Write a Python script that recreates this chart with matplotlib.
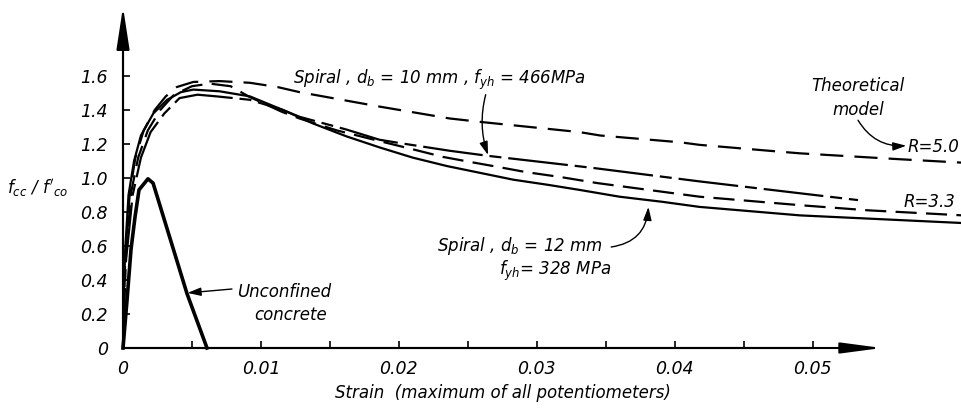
import numpy as np
import matplotlib
matplotlib.use('Agg')
import matplotlib.pyplot as plt

plt.rcParams['font.family'] = 'DejaVu Sans'
plt.rcParams['font.style'] = 'italic'
plt.rcParams['mathtext.fontset'] = 'dejavusans'

# curves (strain, fcc/f'co)
unconf_x = [0, 0.00029, 0.00058, 0.00087, 0.00116, 0.00181, 0.00218, 0.00464, 0.00609]
unconf_y = [0, 0.28, 0.58, 0.77, 0.93, 0.995, 0.97, 0.32, 0]

r50_x = [0, 0.00012, 0.0005, 0.0009, 0.0015, 0.0023, 0.0031, 0.0039, 0.0051, 0.007, 0.0092,
         0.0112, 0.0128, 0.0186, 0.0237, 0.0259, 0.0331, 0.0346, 0.0404, 0.0418, 0.0476,
         0.0491, 0.0564, 0.0609]
r50_y = [0, 0.5, 0.92, 1.12, 1.28, 1.4, 1.48, 1.535, 1.565, 1.57, 1.56,
         1.535, 1.505, 1.42, 1.35, 1.33, 1.27, 1.25, 1.21, 1.195, 1.155,
         1.145, 1.11, 1.09]

r33_x = [0, 0.00015, 0.0006, 0.0011, 0.0018, 0.0027, 0.0037, 0.005, 0.0063, 0.0078, 0.0091,
         0.0115, 0.0128, 0.0155, 0.0192, 0.0212, 0.0232, 0.0252, 0.0272, 0.0292, 0.0317,
         0.0344, 0.0418, 0.0491, 0.054, 0.0609]
r33_y = [0, 0.5, 0.92, 1.12, 1.28, 1.4, 1.49, 1.54, 1.555, 1.54, 1.48,
         1.39, 1.35, 1.28, 1.205, 1.165, 1.124, 1.094, 1.065, 1.035, 1.006,
         0.97, 0.89, 0.84, 0.81, 0.78]

sp12_x = [0, 0.0001, 0.0004, 0.0008, 0.0013, 0.0022, 0.0032, 0.0042, 0.0051, 0.007, 0.0092,
          0.0116, 0.0138, 0.0162, 0.0186, 0.021, 0.0235, 0.0259, 0.0283, 0.0308, 0.0331,
          0.036, 0.0391, 0.0418, 0.0491, 0.0609]
sp12_y = [0, 0.5, 0.9, 1.1, 1.25, 1.38, 1.46, 1.505, 1.52, 1.51, 1.48,
          1.40, 1.32, 1.245, 1.18, 1.12, 1.07, 1.03, 0.99, 0.96, 0.93,
          0.89, 0.86, 0.83, 0.78, 0.735]

sp10_x = [0, 0.0002, 0.0007, 0.0013, 0.002, 0.003, 0.0041, 0.0054, 0.0068, 0.0092, 0.0116,
          0.0128, 0.0162, 0.0186, 0.0201, 0.0237, 0.0265, 0.034, 0.0418, 0.0491, 0.0533]
sp10_y = [0, 0.5, 0.9, 1.12, 1.27, 1.38, 1.47, 1.49, 1.48, 1.46, 1.40,
          1.36, 1.285, 1.225, 1.205, 1.16, 1.13, 1.06, 0.98, 0.91, 0.87]

xticks = [0, 0.01, 0.02, 0.03, 0.04, 0.05]
xlabels = ['0', '0.01', '0.02', '0.03', '0.04', '0.05']
yticks = [0, 0.2, 0.4, 0.6, 0.8, 1.0, 1.2, 1.4, 1.6]
ylabels = ['0', '0.2', '0.4', '0.6', '0.8', '1.0', '1.2', '1.4', '1.6']

fig = plt.figure(figsize=(9.62, 4.12), dpi=100)
ax = fig.add_axes([0, 0, 1, 1])
ax.set_xlim(-0.00892, 0.06084)
ax.set_ylim(-0.3765, 2.047)

lw = 1.6
ax.plot(unconf_x, unconf_y, color='k', lw=2.6, solid_joinstyle='round')
ax.plot(r50_x, r50_y, color='k', lw=lw, linestyle=(0, (10.4, 5)))
ax.plot(r33_x, r33_y, color='k', lw=lw, linestyle=(0, (9.5, 4.2)))
ax.plot(sp12_x, sp12_y, color='k', lw=lw)
ax.plot(sp10_x, sp10_y, color='k', lw=lw, linestyle=(0, (27, 3.1, 5.4, 3.1)))

# axes with arrows
for s in ['top', 'right']:
    ax.spines[s].set_visible(False)
ax.spines['left'].set_position(('data', 0))
ax.spines['bottom'].set_position(('data', 0))
ax.spines['left'].set_bounds(0, 1.8)
ax.spines['bottom'].set_bounds(0, 0.05)
ax.spines['left'].set_linewidth(1.5)
ax.spines['bottom'].set_linewidth(1.5)
ax.annotate('', xy=(0, 2.006), xytext=(0, 0),
            arrowprops=dict(arrowstyle='-|>,head_length=2.6,head_width=0.4',
                            lw=1.5, color='k', shrinkA=0, shrinkB=0))
ax.annotate('', xy=(0.05504, 0), xytext=(0, 0),
            arrowprops=dict(arrowstyle='-|>,head_length=2.5,head_width=0.33',
                            lw=1.5, color='k', shrinkA=0, shrinkB=0))

ax.set_xticks(xticks)
ax.set_xticklabels(xlabels)
ax.set_xticks([0.005, 0.015, 0.025, 0.035, 0.045], minor=True)
ax.set_yticks(yticks)
ax.set_yticklabels(ylabels)
ax.tick_params(axis='both', which='both', direction='in', length=5, width=1.2, labelsize=12.5)
ax.tick_params(axis='y', pad=11)
ax.tick_params(axis='x', pad=9)
for t in ax.get_xticklabels() + ax.get_yticklabels():
    t.set_fontstyle('italic')

fs = 12
ax.text(-0.0084, 0.94, r"$f_{cc}$ / $f'_{co}$", fontsize=fs, ha='left', va='center')
ax.text(0.01537, -0.294, 'Strain  (maximum of all potentiometers)', fontsize=fs,
        ha='left', va='baseline')

ax.text(0.0123, 1.555, r'Spiral , $d_b$ = 10 mm , $f_{yh}$ = 466MPa', fontsize=fs,
        ha='left', va='baseline')
ax.annotate('', xy=(0.02647, 1.135), xytext=(0.0263, 1.49),
            arrowprops=dict(arrowstyle='-|>,head_length=0.8,head_width=0.25', lw=1,
                            color='k', connectionstyle='arc3,rad=0.15',
                            shrinkA=0, shrinkB=0))

ax.text(0.0533, 1.512, 'Theoretical', fontsize=fs, ha='center', va='baseline')
ax.text(0.0533, 1.37, 'model', fontsize=fs, ha='center', va='baseline')
ax.annotate('', xy=(0.0568, 1.19), xytext=(0.0533, 1.34),
            arrowprops=dict(arrowstyle='-|>,head_length=0.8,head_width=0.25', lw=1,
                            color='k', connectionstyle='arc3,rad=0.3',
                            shrinkA=0, shrinkB=0))
ax.text(0.0569, 1.153, 'R=5.0', fontsize=fs, ha='left', va='baseline')
ax.text(0.0566, 0.83, 'R=3.3', fontsize=fs, ha='left', va='baseline')

ax.text(0.0228, 0.571, r'Spiral , $d_b$ = 12 mm', fontsize=fs, ha='left', va='baseline')
ax.text(0.0273, 0.43, r'$f_{yh}$= 328 MPa', fontsize=fs, ha='left', va='baseline')
ax.annotate('', xy=(0.0381, 0.83), xytext=(0.0354, 0.594),
            arrowprops=dict(arrowstyle='-|>,head_length=0.8,head_width=0.25', lw=1,
                            color='k', connectionstyle='arc3,rad=0.4',
                            shrinkA=0, shrinkB=0))

ax.text(0.0083, 0.30, 'Unconfined', fontsize=fs, ha='left', va='baseline')
ax.text(0.0095, 0.165, 'concrete', fontsize=fs, ha='left', va='baseline')
ax.annotate('', xy=(0.00468, 0.324), xytext=(0.0079, 0.347),
            arrowprops=dict(arrowstyle='-|>,head_length=0.8,head_width=0.25', lw=1,
                            color='k', shrinkA=0, shrinkB=0))

fig.savefig('out.png', dpi=100)
